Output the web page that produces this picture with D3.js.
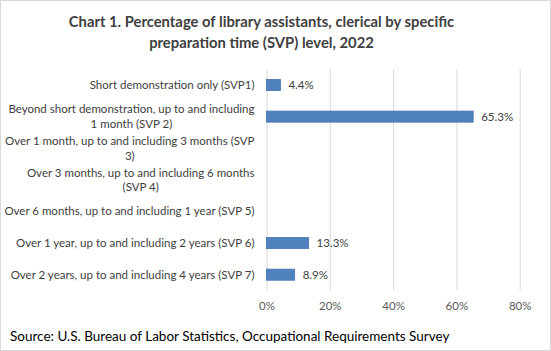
<!DOCTYPE html>
<html><head><meta charset="utf-8">
<script src="https://cdn.jsdelivr.net/npm/d3@7"></script>
<style>
html,body{margin:0;padding:0;background:#fff;}
svg{display:block;font-family:Lato,"Open Sans",sans-serif;}
</style></head>
<body>
<svg id="chart" width="551" height="351"></svg>
<script>
const titleLines = ["Chart 1. Percentage of library assistants, clerical by specific", "preparation time (SVP) level, 2022"];
const sourceText = "Source: U.S. Bureau of Labor Statistics, Occupational Requirements Survey";
const categories = [
  "Short demonstration only (SVP1)",
  "Beyond short demonstration, up to and including 1 month (SVP 2)",
  "Over 1 month, up to and including 3 months (SVP 3)",
  "Over 3 months, up to and including 6 months (SVP 4)",
  "Over 6 months, up to and including 1 year (SVP 5)",
  "Over 1 year, up to and including 2 years (SVP 6)",
  "Over 2 years, up to and including 4 years (SVP 7)"
];
const values = [4.4, 65.3, null, null, null, 13.3, 8.9];
const xTicks = [0, 20, 40, 60, 80];

const svg = d3.select("#chart");
const W = 551, H = 351;
const m = {left: 266.5, right: 31.3, top: 69.2, bottom: 60.5};

svg.append("rect").attr("x",0.5).attr("y",0.5).attr("width",W-1).attr("height",H-1)
  .attr("fill","#fff").attr("stroke","#d9d9d9");

const x = d3.scaleLinear().domain([0,80]).range([m.left, W - m.right]);
const y = d3.scaleBand().domain(categories).range([m.top, H - m.bottom]).paddingInner(0.65).paddingOuter(0.325);

// gridlines
svg.append("g").selectAll("line").data(xTicks).join("line")
  .attr("x1", d=>x(d)+0.5).attr("x2", d=>x(d)+0.5)
  .attr("y1", m.top).attr("y2", H - m.bottom)
  .attr("stroke","#d9d9d9").attr("stroke-width",1);

// x axis labels
const xAxis = d3.axisBottom(x).tickValues(xTicks).tickFormat(d=>d+"%").tickSize(0).tickPadding(0);
const gx = svg.append("g").attr("transform",`translate(0,${H - m.bottom + 11})`).call(xAxis);
gx.select(".domain").remove();
gx.selectAll("text").attr("fill","#595959").attr("font-size","11.5px").attr("font-family","Lato,sans-serif");

// bars
const data = categories.map((c,i)=>({c, v: values[i]})).filter(d=>d.v!=null);
svg.append("g").selectAll("rect").data(data).join("rect")
  .attr("x", x(0)).attr("y", d=>y(d.c))
  .attr("width", d=>x(d.v)-x(0)).attr("height", y.bandwidth())
  .attr("fill","#4f81bd").attr("stroke","#4675b0").attr("stroke-width",0.8);

// value labels
svg.append("g").selectAll("text").data(data).join("text")
  .attr("x", d=>x(d.v)+8).attr("y", d=>y(d.c)+y.bandwidth()/2)
  .attr("dy","0.35em").attr("fill","#404040").attr("font-size","11.5px")
  .text(d=>d.v.toFixed(1)+"%");

// category labels with wrapping
const lineH = 14.5, labelRight = 254.5, labelFont = "11.5px";
const gy = svg.append("g");
// wrap width: label 5 is the widest single-line label
const measure = (s)=>{const t=gy.append("text").attr("font-size",labelFont).text(s); const w=t.node().getComputedTextLength(); t.remove(); return w;};
const maxW = measure(categories[4]) + 0.5;
categories.forEach(c=>{
  const t = gy.append("text").attr("font-size",labelFont).attr("fill","#404040");
  const words = c.split(" ");
  let lines = [], cur = [];
  words.forEach(w=>{
    cur.push(w);
    if (measure(cur.join(" ")) > maxW && cur.length>1){
      cur.pop(); lines.push(cur.join(" ")); cur=[w];
    }
  });
  lines.push(cur.join(" "));
  const widths = lines.map(measure);
  const bw = d3.max(widths);
  const cx = labelRight - bw/2;
  const cy = y(c) + y.bandwidth()/2;
  const y0 = cy - (lines.length-1)*lineH/2;
  lines.forEach((l,i)=>{
    t.append("tspan").attr("x", cx).attr("y", y0 + i*lineH).attr("dy","0.35em").attr("text-anchor","middle").text(l);
  });
});

// title
svg.append("g").selectAll("text").data(titleLines).join("text")
  .attr("x", 261.5).attr("y",(d,i)=>26.5 + i*21.5).attr("text-anchor","middle")
  .attr("font-size","14.8px").attr("font-weight","bold").attr("fill","#404040").text(d=>d);

// source
svg.append("text").attr("x",10).attr("y",341).attr("font-size","13.5px").attr("fill","#000").text(sourceText);
</script>
</body></html>
